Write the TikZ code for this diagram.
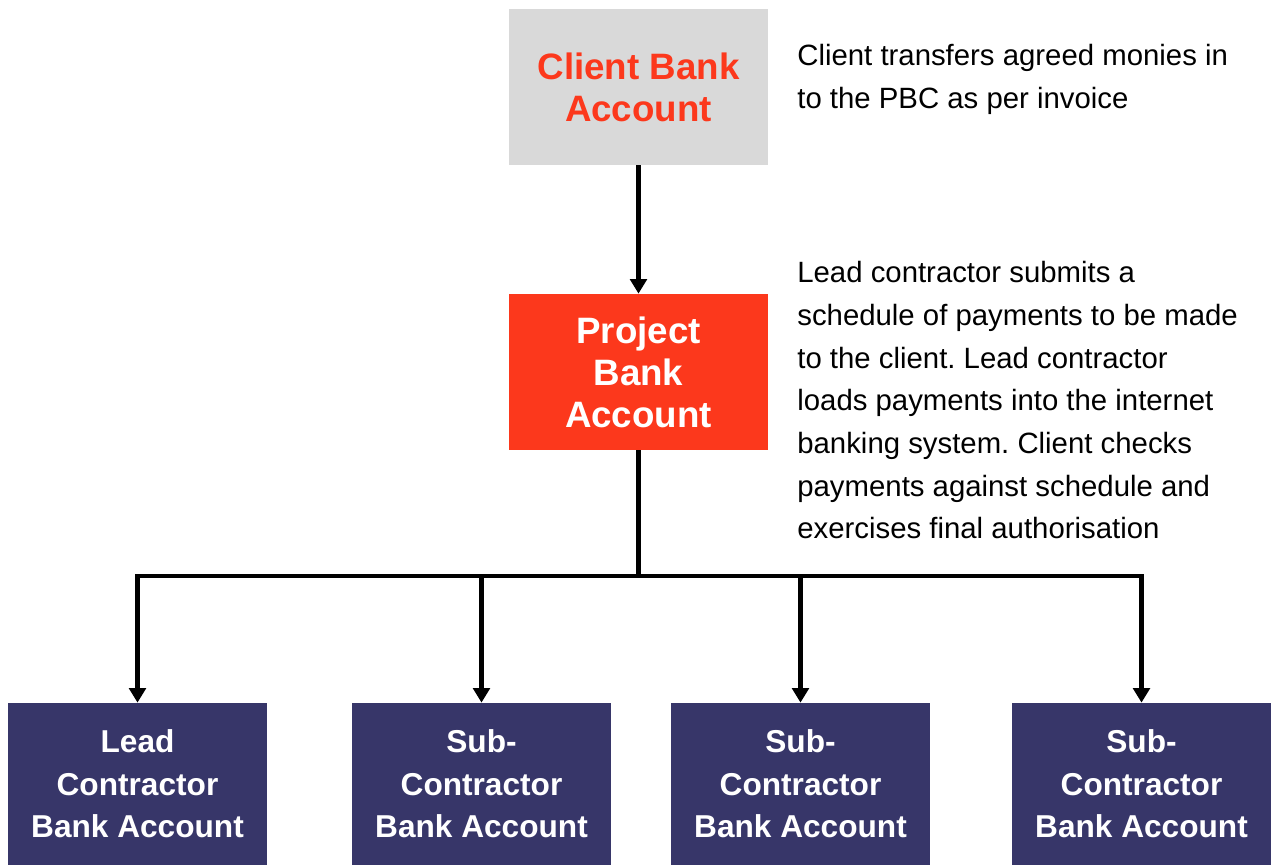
\documentclass[tikz,border=0pt]{standalone}
\usepackage{fontspec}
\setmainfont{Liberation Sans}
\usetikzlibrary{positioning}
\usetikzlibrary{arrows.meta}
\frenchspacing
\definecolor{boxgray}{RGB}{217,217,217}
\definecolor{boxred}{RGB}{252,56,28}
\definecolor{boxnavy}{RGB}{55,54,105}
\tikzset{
    clientnode/.style = {rectangle, fill=boxgray, minimum width=5.18cm, minimum height=3.12cm, align=center, text=boxred, font=\fontsize{20.9}{23.9}\selectfont\bfseries},
    projectnode/.style = {rectangle, fill=boxred, minimum width=5.18cm, minimum height=3.12cm, align=center, text=white, font=\fontsize{20.9}{23.9}\selectfont\bfseries},
    contrnode/.style = {rectangle, fill=boxnavy, minimum width=5.18cm, minimum height=3.24cm, align=center, text=white, font=\fontsize{18}{24.2}\selectfont\bfseries},
    notenode/.style = {anchor=base west, align=left, inner sep=0pt, font=\fontsize{16.7}{24.3}\selectfont}, % base = last line
    edgen/.style = {-, line width=2.3pt, black},
    edgea/.style = {-{Triangle[length=0.29cm,width=0.33cm]}, line width=2.3pt, black}
}
\begin{document}
\begin{tikzpicture}
\node[clientnode] at (12.77, 15.30) (client) {Client Bank\\Account};
\node[projectnode] at (12.77, 9.60) (project) {Project\\Bank\\Account};
\node[contrnode] at (2.75, 1.36) (lead) {Lead\\Contractor\\Bank Account};
\node[contrnode] at (9.63, 1.36) (subA) {Sub-\\Contractor\\Bank Account};
\node[contrnode] at (16.01, 1.36) (subB) {Sub-\\Contractor\\Bank Account};
\node[contrnode] at (22.83, 1.36) (subC) {Sub-\\Contractor\\Bank Account};
\coordinate (bus) at (12.77, 5.52);
%
\node[notenode] at (15.94, 14.87) (noteA) {Client transfers agreed monies in\\to the PBC as per invoice};
\node[notenode] at (15.94, 6.26) (noteB) {Lead contractor submits a\\schedule of payments to be made\\to the client. Lead contractor\\loads payments into the internet\\banking system. Client checks\\payments against schedule and\\exercises final authorisation};
%
\draw[edgea] (client) -- (project);
\draw[edgen] (project) -- (bus);
\draw[edgea] (bus) -| (lead.north);
\draw[edgea] (bus) -| (subA.north);
\draw[edgea] (bus) -| (subB.north);
\draw[edgea] (bus) -| (subC.north);

\path[use as bounding box] (0, 0) rectangle (25.44, 17.04);
\end{tikzpicture}
\end{document}
